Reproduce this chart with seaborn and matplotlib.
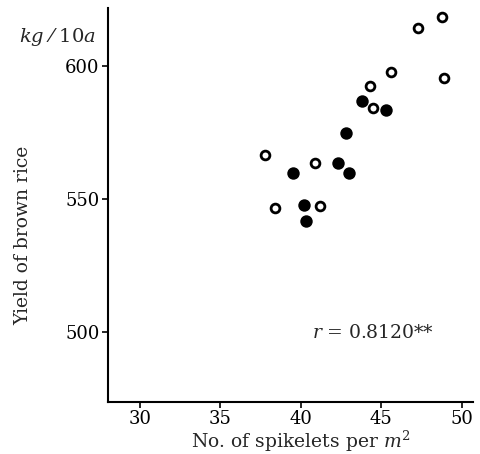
import numpy as np
import pandas as pd
import seaborn as sns
import matplotlib.pyplot as plt

# open circles
open_x = [47.3, 48.8, 45.6, 48.9, 44.3, 44.5, 37.8, 40.9, 38.4, 41.2]
open_y = [614.3, 618.4, 597.7, 595.5, 592.5, 584.2, 566.5, 563.5, 546.6, 547.4]

# filled circles
fill_x = [43.8, 45.3, 42.8, 39.5, 42.3, 43.0, 40.2, 40.3]
fill_y = [586.8, 583.5, 574.8, 559.8, 563.5, 559.8, 547.7, 541.7]

x_ticks = [30, 35, 40, 45, 50]
y_ticks = [500, 550, 600]

df_open = pd.DataFrame({"x": open_x, "y": open_y})
df_fill = pd.DataFrame({"x": fill_x, "y": fill_y})

sns.set_style("ticks")
plt.rcParams['font.family'] = ['DejaVu Serif']
plt.rcParams['mathtext.fontset'] = 'dejavuserif'

fig = plt.figure(figsize = (4.8, 4.54), dpi = 100)
ax = fig.add_axes([0.225, 0.1145, 0.76, 0.8675])

sns.scatterplot(data = df_fill, x = "x", y = "y", ax = ax, s = 60,
                color = "black", edgecolor = "black", linewidth = 1.2)
sns.scatterplot(data = df_open, x = "x", y = "y", ax = ax, s = 40,
                facecolor = "white", edgecolor = "black", linewidth = 2.0)

ax.set_xlim(28.0, 50.7)
ax.set_ylim(473.7, 621.8)
ax.set_xticks(x_ticks)
ax.set_yticks(y_ticks)
ax.tick_params(labelsize = 13, length = 4, width = 1.2, direction = "out",
               colors = "black", pad = 2)
sns.despine(ax = ax)
for sp in ["left", "bottom"]:
    ax.spines[sp].set_linewidth(1.5)
    ax.spines[sp].set_color("black")

ax.set_xlabel(r"No. of spikelets per $m^2$", fontsize = 13.5, labelpad = 0, x = 0.53)
ax.set_ylabel("")
fig.text(0.048, 0.482, "Yield of brown rice", rotation = 90, fontsize = 13.5,
         ha = "center", va = "center")
fig.text(0.04, 0.918, r"$kg$ ⁄ 10$a$", fontsize = 14, ha = "left", va = "center")
ax.text(40.7, 499.6, r"$r$ = 0.8120**", fontsize = 13.5, ha = "left", va = "center")

plt.savefig("out.png", dpi = 100)
